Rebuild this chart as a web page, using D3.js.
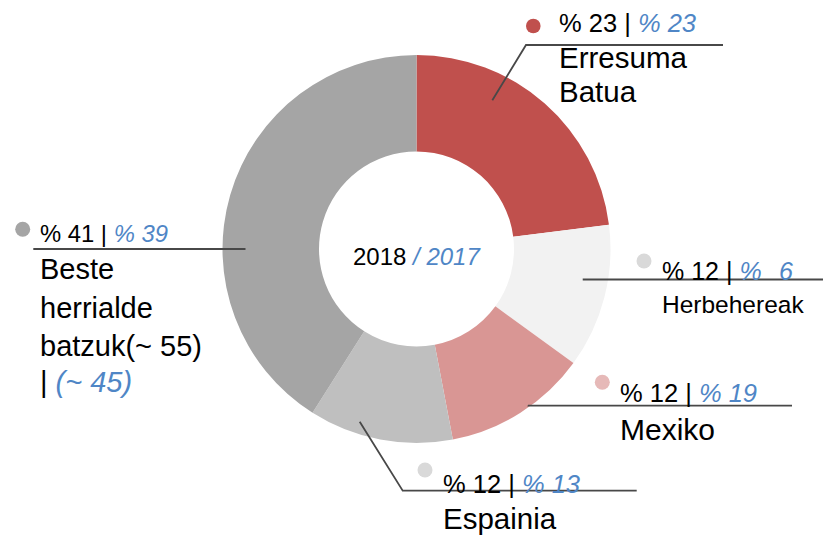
<!DOCTYPE html>
<html>
<head>
<meta charset="utf-8">
<script src="https://cdn.jsdelivr.net/npm/d3@7"></script>
<style>
  html, body { margin: 0; padding: 0; background: #fff; }
  svg { display: block; }
  text { font-family: "Liberation Sans", Arial, sans-serif; font-weight: normal; }
</style>
</head>
<body>
<svg id="chart" width="823" height="535"></svg>
<script>
// ---- data ----
const categories = ["Erresuma Batua", "Herbehereak", "Mexiko", "Espainia", "Beste herrialde batzuk"];
const nameLines = [["Erresuma", "Batua"], ["Herbehereak"], ["Mexiko"], ["Espainia"], ["Beste", "herrialde", "batzuk(~ 55)"]];
const values2018 = [23, 12, 12, 12, 41];
const values2017 = [23, 6, 19, 13, 39];
const otherCount2017 = 45;
const years = ["2018", "2017"];

// ---- style ----
const sliceColors = ["#c0504d", "#f2f2f2", "#d99694", "#bfbfbf", "#a5a5a5"];
const dotColors = ["#c0504d", "#d9d9d9", "#e6b9b8", "#d9d9d9", "#a5a5a5"];
const blue = "#4f86c6";
const lineColor = "#484848";

const svg = d3.select("#chart");
const cx = 416.5, cy = 249, outerR = 194, innerR = 97.5;

const pie = d3.pie().sort(null).value(d => d).startAngle(0).endAngle(2 * Math.PI);
const arc = d3.arc().innerRadius(innerR).outerRadius(outerR);

const g = svg.append("g").attr("transform", `translate(${cx},${cy})`);
g.selectAll("path.slice")
  .data(pie(values2018))
  .join("path")
  .attr("class", "slice")
  .attr("d", arc)
  .attr("fill", (d, i) => sliceColors[i]);

// centre label
const ct = svg.append("text").attr("x", 353).attr("y", 264.5).attr("font-size", 24);
ct.append("tspan").attr("fill", "#000").text(years[0] + " ");
ct.append("tspan").attr("fill", blue).attr("font-style", "italic").text("/ " + years[1]);

// label layout (positions only)
const layout = [
  { dot: [533.3, 26], dotR: 7.3, tx: 559, pctY: 31.5, pctSize: 25.5, leadA: 27, leadR: 167,
    path: [[526, 45], [723, 45]], nameY: [68, 102], nameSize: 29.5 },
  { dot: [644, 261], dotR: 7.5, tx: 662, pctY: 280, pctSize: 25, leadA: 100.4, leadR: 169,
    path: [[583, 279.5], [823, 279.5]], nameY: [312.5], nameSize: 24.5, gap: true },
  { dot: [602.3, 382.3], dotR: 7.5, tx: 620, pctY: 401.5, pctSize: 25.5, leadA: 144.6, leadR: 192,
    path: [[528, 405.7], [792, 405.7]], nameY: [439.5], nameSize: 30 },
  { dot: [425, 470], dotR: 7.5, tx: 443, pctY: 492.7, pctSize: 25.5, leadA: 198.2, leadR: 181.8,
    path: [[402.7, 490.7], [636.7, 490.7]], nameY: [529], nameSize: 29.5 },
  { dot: [22.7, 229.3], dotR: 7.5, tx: 40, pctY: 241.7, pctSize: 23.8, leadA: 270, leadR: 171,
    path: [[33.3, 249]], nameY: [279, 317.5, 356, 391.5], nameSize: 29 }
];

const polar = (aDeg, r) => {
  const a = aDeg * Math.PI / 180;
  return [cx + r * Math.sin(a), cy - r * Math.cos(a)];
};

const line = d3.line();
categories.forEach((cat, i) => {
  const L = layout[i];
  const pts = [polar(L.leadA, L.leadR), ...L.path];
  svg.append("path").attr("d", line(pts)).attr("fill", "none")
    .attr("stroke", lineColor).attr("stroke-width", 1.8);

  svg.append("circle").attr("cx", L.dot[0]).attr("cy", L.dot[1]).attr("r", L.dotR)
    .attr("fill", dotColors[i]);

  const t = svg.append("text").attr("x", L.tx).attr("y", L.pctY).attr("font-size", L.pctSize);
  t.append("tspan").attr("fill", "#000").text(`% ${values2018[i]} | `);
  t.append("tspan").attr("fill", blue).attr("font-style", "italic")
    .text(L.gap ? `%\u2002\u2009${values2017[i]}` : `% ${values2017[i]}`);

  nameLines[i].forEach((ln, k) => {
    svg.append("text").attr("x", L.tx).attr("y", L.nameY[k]).attr("font-size", L.nameSize)
      .attr("fill", "#000").text(ln);
  });
  if (i === 4) {
    const t2 = svg.append("text").attr("x", L.tx).attr("y", L.nameY[3]).attr("font-size", L.nameSize);
    t2.append("tspan").attr("fill", "#000").text("| ");
    t2.append("tspan").attr("fill", blue).attr("font-style", "italic").text(`(~ ${otherCount2017})`);
  }
});
</script>
</body>
</html>
